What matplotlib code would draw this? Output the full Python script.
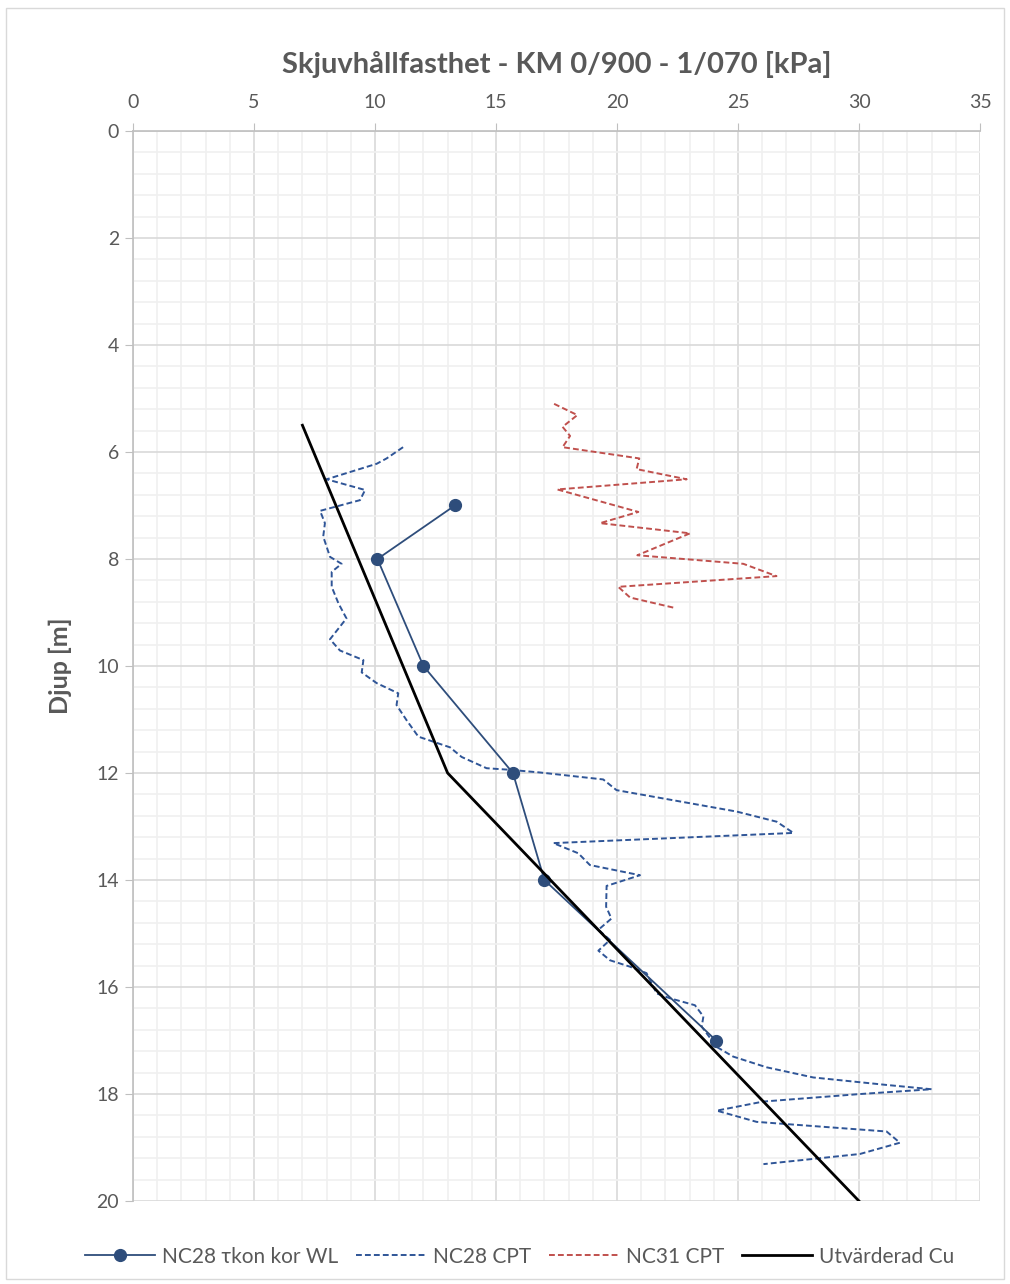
import matplotlib.pyplot as plt
from matplotlib.patches import Rectangle
from matplotlib.ticker import MultipleLocator

plt.rcParams['font.family'] = ['Lato', 'DejaVu Sans']

# NC28 tkon kor WL (points)
tkon_x = [13.3, 10.1, 12.0, 15.7, 17.0, 24.1]
tkon_y = [7.0, 8.0, 10.0, 12.0, 14.0, 17.0]

# NC28 CPT
nc28_x = [11.16, 10.48, 10.07, 8.0, 9.59, 9.38, 7.73, 7.93, 7.86, 8.14, 8.62, 8.21,
          8.21, 8.49, 8.82, 8.14, 8.55, 9.52, 9.45, 10.07, 10.96, 10.89, 11.30, 11.79,
          13.1, 13.58, 14.61, 15.58, 16.82, 19.43, 19.98, 24.94, 26.6, 27.29, 17.37,
          18.40, 18.88, 20.95, 19.57, 19.55, 19.77, 19.23, 19.71, 19.23, 19.71, 20.54,
          21.22, 21.64, 22.19, 23.22, 23.57, 23.50, 24.12, 24.8, 26.18, 28.11, 31.14,
          33.0, 30.04, 26.05, 24.12, 25.77, 31.14, 31.69, 30.04, 26.05]
nc28_y = [5.91, 6.12, 6.22, 6.51, 6.71, 6.90, 7.10, 7.33, 7.58, 7.96, 8.09, 8.24,
          8.52, 8.83, 9.11, 9.50, 9.71, 9.89, 10.12, 10.32, 10.51, 10.73, 11.01, 11.32,
          11.52, 11.70, 11.91, 11.94, 11.99, 12.12, 12.32, 12.72, 12.91, 13.12, 13.31,
          13.50, 13.72, 13.91, 14.11, 14.50, 14.72, 14.93, 15.12, 15.32, 15.50, 15.62,
          15.74, 16.12, 16.21, 16.34, 16.55, 16.74, 17.12, 17.30, 17.50, 17.69, 17.83,
          17.91, 18.0, 18.14, 18.31, 18.52, 18.70, 18.91, 19.12, 19.31]

# NC31 CPT
nc31_x = [17.40, 18.36, 17.75, 18.06, 17.75, 20.92, 20.81, 22.88, 17.53, 20.88, 19.30,
          23.02, 20.84, 25.22, 26.59, 20.05, 20.54, 22.44]
nc31_y = [5.10, 5.31, 5.53, 5.70, 5.91, 6.12, 6.32, 6.51, 6.70, 7.12, 7.33,
          7.52, 7.93, 8.09, 8.32, 8.52, 8.72, 8.92]

# Utvärderad Cu
cu_x = [7.0, 13.0, 30.0]
cu_y = [5.5, 12.0, 20.0]

grey = '#595959'

fig = plt.figure(figsize=(10.1, 12.84), dpi=100)
fig.patches.append(Rectangle((0.006, 0.004), 0.988, 0.99, transform=fig.transFigure,
                             fill=False, edgecolor='#d9d9d9', linewidth=1))
ax = fig.add_axes([0.1317, 0.0646, 0.8386, 0.8334])

ax.plot(tkon_x, tkon_y, color='#2E4D7B', lw=1.3, marker='o', ms=8.5,
        label='NC28 τkon kor WL', zorder=4)
ax.plot(nc28_x, nc28_y, color='#2F5597', lw=1.4, ls=(0, (3, 1.6)), label='NC28 CPT', zorder=3)
ax.plot(nc31_x, nc31_y, color='#C0504D', lw=1.4, ls=(0, (3, 1.6)), label='NC31 CPT', zorder=3)
ax.plot(cu_x, cu_y, color='black', lw=2, label='Utvärderad Cu', zorder=5)

ax.set_xlim(0, 35)
ax.set_ylim(20, 0)
ax.xaxis.set_major_locator(MultipleLocator(5))
ax.xaxis.set_minor_locator(MultipleLocator(1))
ax.yaxis.set_major_locator(MultipleLocator(2))
ax.yaxis.set_minor_locator(MultipleLocator(0.4))
ax.xaxis.tick_top()
ax.grid(which='major', color='#d9d9d9', lw=1.2)
ax.grid(which='minor', color='#f0f0f0', lw=1.2)
ax.set_axisbelow(True)

for s in ['right', 'bottom']:
    ax.spines[s].set_visible(False)
for s in ['top', 'left']:
    ax.spines[s].set_color('#bfbfbf')
    ax.spines[s].set_linewidth(1.2)

ax.tick_params(which='major', length=6, color='#bfbfbf', labelsize=14, labelcolor=grey, pad=4)
ax.tick_params(axis='x', which='major', pad=8.5)
ax.tick_params(which='minor', length=0)

ax.set_title('Skjuvhållfasthet - KM 0/900 - 1/070 [kPa]', fontsize=21, fontweight='bold',
             color=grey, pad=42)
ax.set_ylabel('Djup [m]', fontsize=18, fontweight='bold', color=grey, labelpad=18)

ax.legend(loc='upper center', bbox_to_anchor=(0.456, -0.025), ncol=4, frameon=False,
          fontsize=15, handlelength=3.4, columnspacing=0.85, handletextpad=0.3,
          labelcolor=grey)

fig.savefig('out.png', dpi=100)
